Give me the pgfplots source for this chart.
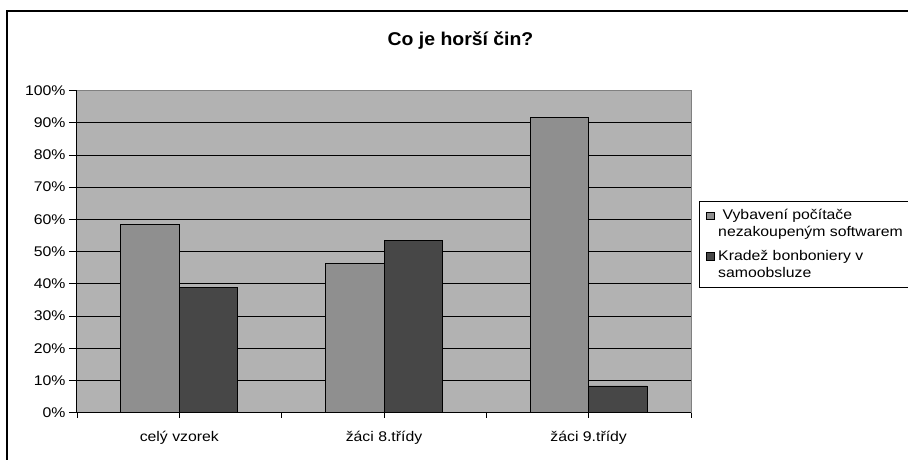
\documentclass[border=0pt]{standalone}
\usepackage{pgfplots}
\pgfplotsset{compat=1.18}
\usepackage{fontspec}
\setmainfont{Liberation Sans}[FakeStretch=1.13]
\newfontfamily\titlefont{Liberation Sans}[FakeStretch=1.05]
\definecolor{bgGray}{RGB}{178,178,178}
\definecolor{barLight}{RGB}{143,143,143}
\definecolor{barDark}{RGB}{71,71,71}
\definecolor{frameGray}{RGB}{128,128,128}

\pgfplotstableread{
x a b
0 58.3 39.0
1 46.4 53.6
2 91.7 8.3
}\datatab

\begin{document}
\begin{tikzpicture}[x=1pt,y=1pt]
\useasboundingbox (0,0) rectangle (908,459);
\draw[line width=1.3pt] (7,-5) -- (7,448) -- (915,448);
\node[font=\titlefont\bfseries\fontsize{18.5}{22}\selectfont, anchor=base] at (460.5,413) {Co je horší čin?};
\begin{axis}[
  at={(77pt,46.3pt)}, anchor=south west,
  scale only axis, width=614pt, height=322.2pt,
  xmin=-0.5, xmax=2.5, ymin=0, ymax=100,
  ybar=0pt, bar width=0.286,
  axis background/.style={fill=bgGray},
  axis x line*=bottom, axis y line*=left,
  axis line style={-, black, line width=1pt},
  xtick={-0.5,0.5,1.5,2.5}, xticklabels={},
  extra x ticks={0,1,2},
  extra x tick labels={celý vzorek, žáci 8.třídy, žáci 9.třídy},
  extra x tick style={major tick length=0pt, grid=none, xticklabel style={anchor=base, yshift=-29pt}},
  ytick={0,10,...,100},
  yticklabel={\pgfmathprintnumber{\tick}\%},
  ymajorgrids, major grid style={black, line width=0.8pt},
  tick align=outside, major tick length=8pt,
  tick style={black, line width=0.8pt},
  xtick style={/pgfplots/major tick length=5pt},
  ticklabel style={font=\fontsize{14}{16}\selectfont},
  /pgf/number format/assume math mode=true,
  clip=false,
]
\addplot[fill=barLight, draw=black, line width=0.9pt] table[x=x, y=a] {\datatab};
\addplot[fill=barDark, draw=black, line width=0.9pt] table[x=x, y=b] {\datatab};
\draw[frameGray, line width=1pt] (rel axis cs:0,1) -- (rel axis cs:1,1) -- (rel axis cs:1,0);
\end{axis}
% legend
\draw[black, line width=0.9pt, fill=white] (699,172) rectangle (915,258);
\filldraw[fill=barLight, draw=black, line width=0.8pt] (706.5,239.7) rectangle (714,247);
\filldraw[fill=barDark, draw=black, line width=0.8pt] (706.5,199) rectangle (714,206.5);
\begin{scope}[every node/.style={anchor=base west, inner sep=0pt, font=\fontsize{14}{16}\selectfont}]
\node at (718,239.5) {\ Vybavení počítače};
\node at (718,222.5) {nezakoupeným softwarem};
\node at (718,199) {Kradež bonboniery v};
\node at (718,181.5) {samoobsluze};
\end{scope}
\end{tikzpicture}
\end{document}
